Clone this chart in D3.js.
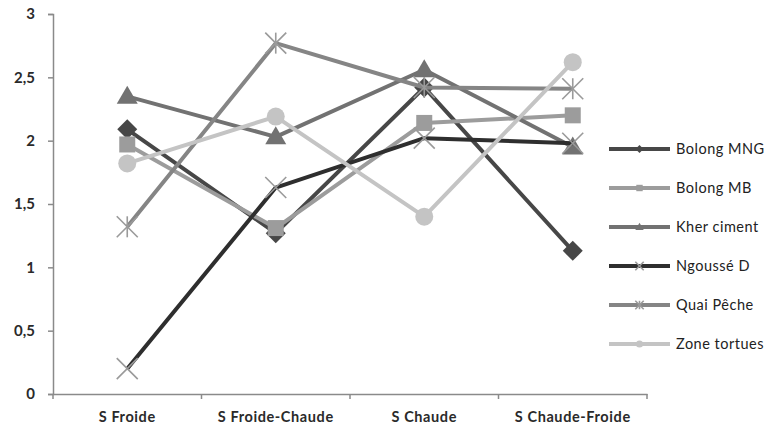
<!DOCTYPE html>
<html>
<head>
<meta charset="utf-8">
<script src="https://cdn.jsdelivr.net/npm/d3@7"></script>
<style>
  html, body { margin: 0; padding: 0; background: #fff; }
  svg { display: block; }
  text { font-family: Lato, "Open Sans", sans-serif; }
</style>
</head>
<body>
<svg id="chart" width="770" height="428"></svg>
<script>
// Seasons along the x axis
const categories = ["S Froide", "S Froide-Chaude", "S Chaude", "S Chaude-Froide"];

// One array per site
const bolongMNG   = [2.09, 1.27, 2.42, 1.13];
const bolongMB    = [1.97, 1.31, 2.14, 2.20];
const kherCiment  = [2.35, 2.03, 2.56, 1.95];
const ngousseD    = [0.20, 1.63, 2.02, 1.98];
const quaiPeche   = [1.32, 2.77, 2.42, 2.41];
const zoneTortues = [1.82, 2.19, 1.40, 2.62];

const seriesNames = ["Bolong MNG", "Bolong MB", "Kher ciment", "Ngoussé D", "Quai Pêche", "Zone tortues"];
const yTicks = [0, 0.5, 1, 1.5, 2, 2.5, 3];

const seriesData = [bolongMNG, bolongMB, kherCiment, ngousseD, quaiPeche, zoneTortues];
const styles = [
  { color: "#474747", marker: "diamond" },
  { color: "#9c9c9c", marker: "square" },
  { color: "#727272", marker: "triangle" },
  { color: "#2e2e2e", marker: "cross" },
  { color: "#858585", marker: "star" },
  { color: "#c4c4c4", marker: "circle" }
];

const svg = d3.select("#chart");
const plot = { left: 53, right: 647, top: 14, bottom: 394 };

const x = d3.scaleBand().domain(categories).range([plot.left, plot.right]).padding(0);
const y = d3.scaleLinear().domain([0, 3]).range([plot.bottom, plot.top]);
const cx = c => x(c) + x.bandwidth() / 2;

// Y axis
const yAxis = svg.append("g")
  .attr("transform", `translate(${plot.left},0)`)
  .call(d3.axisLeft(y).tickValues(yTicks).tickSize(5).tickPadding(13)
    .tickFormat(d => String(d).replace(".", ",")));
yAxis.select(".domain").attr("stroke", "#8a8a8a").attr("stroke-width", 1.5);
yAxis.selectAll(".tick line").attr("stroke", "#8a8a8a").attr("stroke-width", 1.5);
yAxis.selectAll(".tick text").attr("font-size", 15).attr("font-weight", "bold")
  .attr("fill", "#2a2a2a").style("font-family", "Lato, sans-serif");

// X axis with ticks between categories
const xAxis = svg.append("g")
  .attr("transform", `translate(0,${plot.bottom})`)
  .call(d3.axisBottom(x).tickSize(0).tickPadding(18));
xAxis.select(".domain").attr("stroke", "#8a8a8a").attr("stroke-width", 1.5);
xAxis.selectAll(".tick text").attr("font-size", 14.5).attr("font-weight", "bold")
  .attr("letter-spacing", 0.6).attr("fill", "#2a2a2a").style("font-family", "Lato, sans-serif");
const bounds = categories.map(c => x(c)).concat([x(categories[categories.length - 1]) + x.bandwidth()]);
svg.append("g").selectAll("line").data(bounds).join("line")
  .attr("x1", d => d).attr("x2", d => d)
  .attr("y1", plot.bottom).attr("y2", plot.bottom + 5)
  .attr("stroke", "#8a8a8a").attr("stroke-width", 1.5);

// Marker drawing
function drawMarker(g, type, color, size) {
  const s = size;
  if (type === "diamond") {
    g.append("path").attr("d", `M0,${-s}L${s},0L0,${s}L${-s},0Z`).attr("fill", color);
  } else if (type === "square") {
    g.append("rect").attr("x", -s * 0.8).attr("y", -s * 0.8).attr("width", s * 1.6).attr("height", s * 1.6).attr("fill", color);
  } else if (type === "triangle") {
    g.append("path").attr("d", `M0,${-s * 1.05}L${s * 1.05},${s * 0.75}L${-s * 1.05},${s * 0.75}Z`).attr("fill", color);
  } else if (type === "circle") {
    g.append("circle").attr("r", s * 0.9).attr("fill", color);
  } else if (type === "cross" || type === "star") {
    const k = s * 1.05;
    const xcol = "#9a9a9a";
    g.append("path").attr("d", `M${-k},${-k}L${k},${k}M${-k},${k}L${k},${-k}`)
      .attr("stroke", xcol).attr("stroke-width", 1.6).attr("fill", "none");
    if (type === "star") {
      g.append("path").attr("d", `M0,${-k}L0,${k}`)
        .attr("stroke", xcol).attr("stroke-width", 1.6);
    }
  }
}

const line = d3.line().x((d, i) => cx(categories[i])).y(d => y(d));

seriesData.forEach((vals, si) => {
  const st = styles[si];
  const g = svg.append("g");
  g.append("path").datum(vals).attr("d", line)
    .attr("fill", "none").attr("stroke", st.color).attr("stroke-width", 4)
    .attr("stroke-linejoin", "round");
  vals.forEach((v, i) => {
    const mg = g.append("g").attr("transform", `translate(${cx(categories[i])},${y(v)})`);
    drawMarker(mg, st.marker, st.color, 10);
  });
});

// Legend
const legend = svg.append("g");
seriesNames.forEach((name, i) => {
  const st = styles[i];
  const ly = 149 + i * 39;
  const row = legend.append("g");
  row.append("line").attr("x1", 609).attr("x2", 670).attr("y1", ly).attr("y2", ly)
    .attr("stroke", st.color).attr("stroke-width", 4);
  const mg = row.append("g").attr("transform", `translate(639.5,${ly})`);
  drawMarker(mg, st.marker, st.color, 4);
  row.append("text").attr("x", 676).attr("y", ly + 5)
    .attr("font-size", 14.5).attr("fill", "#222").attr("letter-spacing", 0.5)
    .text(name);
});
</script>
</body>
</html>
